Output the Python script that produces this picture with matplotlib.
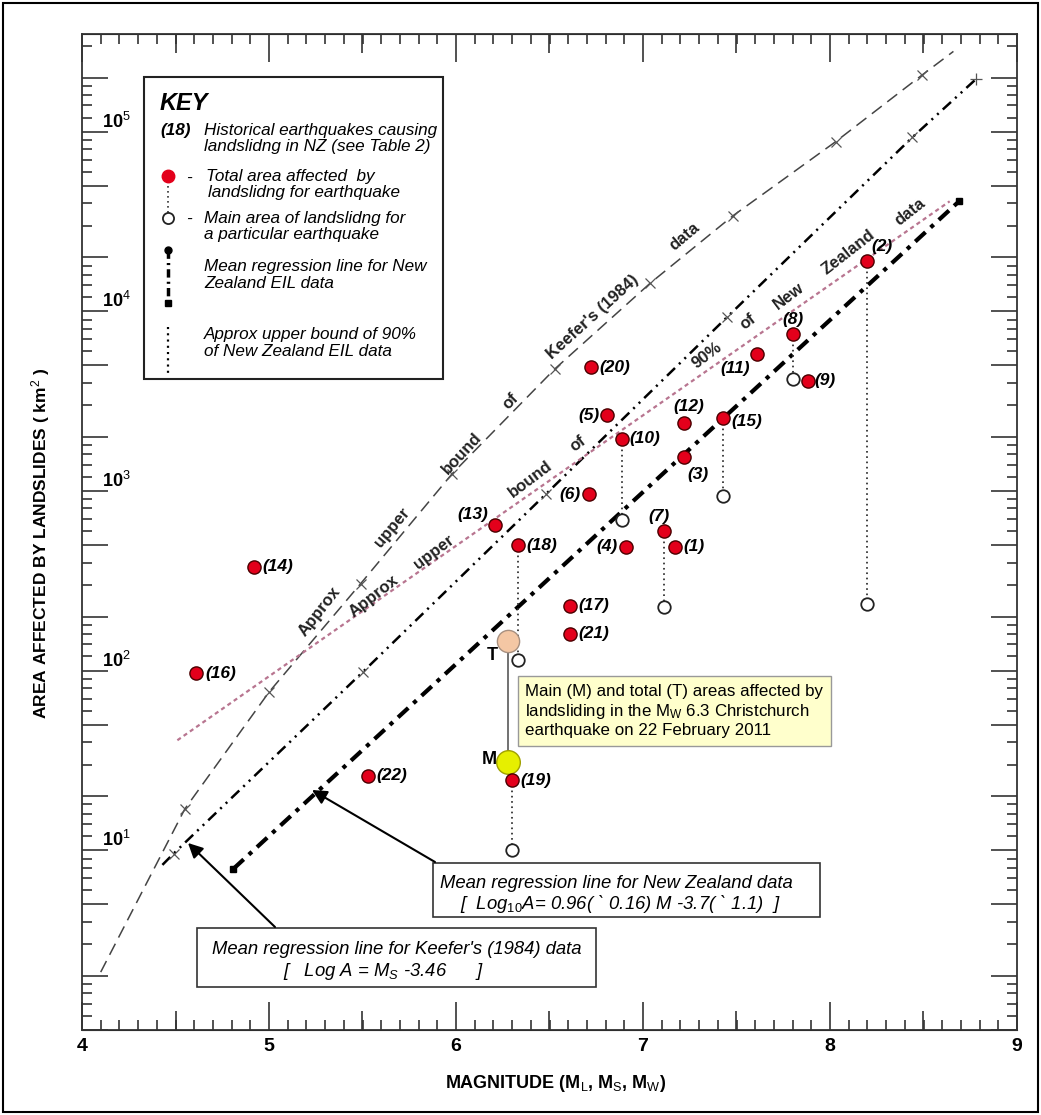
import numpy as np
import matplotlib.pyplot as plt
from matplotlib.ticker import FixedLocator, MultipleLocator, NullLocator
from matplotlib.patches import Rectangle

plt.rcParams['font.family'] = ['Liberation Sans', 'DejaVu Sans']
plt.rcParams['mathtext.fontset'] = 'custom'
plt.rcParams['mathtext.rm'] = 'Liberation Sans'
plt.rcParams['mathtext.it'] = 'Liberation Sans:italic'
plt.rcParams['mathtext.bf'] = 'Liberation Sans:bold'
plt.rcParams['lines.scale_dashes'] = False

# total area affected by landsliding for each NZ earthquake (red dots)
eq_id = [1, 2, 3, 4, 5, 6, 7, 8, 9, 10, 11, 12, 13, 14, 15, 16, 17, 18, 19, 20, 21, 22]
eq_mag = [7.17, 8.20, 7.22, 6.91, 6.81, 6.71, 7.11, 7.80, 7.88, 6.89, 7.61,
          7.22, 6.21, 4.92, 7.43, 4.61, 6.61, 6.33, 6.30, 6.72, 6.61, 5.53]
eq_area = [490, 19000, 1550, 490, 2640, 960, 600, 7450, 4100, 1950, 5760,
           2400, 650, 380, 2560, 97, 230, 500, 24.5, 4900, 161, 26]

# main area of landsliding (open circles), joined to the total by dots
main_id = [2, 8, 15, 10, 7, 18, 19]
main_area = [235, 4200, 935, 690, 225, 115, 10]

# 22 February 2011 Christchurch earthquake
chch_mag = 6.28
chch_total = 146
chch_main = 31

# lines
keefer_ub_mag = [4.10, 4.55, 5.00, 5.49, 5.98, 6.53, 7.04, 7.48, 8.03, 8.49, 8.66]
keefer_ub_area = [2.1, 17, 76, 305, 1250, 4800, 14400, 34000, 88000, 206000, 280000]
keefer_mean_mag = [4.43, 4.49, 5.50, 6.48, 7.45, 8.44, 8.78]
keefer_mean_area = [8.3, 9.6, 98, 960, 9300, 93000, 196000]
nz90_mag = [4.51, 8.64]
nz90_area = [41, 41000]
nzmean_mag = [4.81, 8.69]
nzmean_area = [7.9, 41000]

# label placement (points offset, ha, va)
lab_pos = {1: (6, 0, 'left', 'center'), 2: (3, 5, 'left', 'bottom'),
           3: (2, -7, 'left', 'top'), 4: (-6, 0, 'right', 'center'),
           5: (-6, 0, 'right', 'center'), 6: (-6, 0, 'right', 'center'),
           7: (-3, 5, 'center', 'bottom'), 8: (0, 5, 'center', 'bottom'),
           9: (5, 0, 'left', 'center'), 10: (5, 0, 'left', 'center'),
           11: (-5, -5, 'right', 'top'), 12: (3, 6, 'center', 'bottom'),
           13: (-5, 2, 'right', 'bottom'), 14: (6, 0, 'left', 'center'),
           15: (6, -3, 'left', 'center'), 16: (7, 0, 'left', 'center'),
           17: (6, 0, 'left', 'center'), 18: (6, 0, 'left', 'center'),
           19: (6, 0, 'left', 'center'), 20: (6, 0, 'left', 'center'),
           21: (6, 0, 'left', 'center'), 22: (6, 0, 'left', 'center')}

W, H = 1041, 1115
AX_L, AX_R, AX_T, AX_B = 82, 1017, 34, 1030

fig = plt.figure(figsize=(W / 100, H / 100), dpi=100)
ax = fig.add_axes([AX_L / W, (H - AX_B) / H, (AX_R - AX_L) / W, (AX_B - AX_T) / H])


def apx(px, py):
    # pixel position -> axes fraction
    return ((px - AX_L) / (AX_R - AX_L), (AX_B - py) / (AX_B - AX_T))


ax.set_yscale('log')
ax.set_xlim(4, 9)
ax.set_ylim(1, 3.5e5)

# ---- lines
ax.plot(keefer_ub_mag, keefer_ub_area, color='#444444', lw=1.1, dashes=(9, 5))
ax.plot(keefer_ub_mag[1:-1], keefer_ub_area[1:-1], 'x', color='#555555', ms=7, mew=0.9)
ax.plot(keefer_mean_mag, keefer_mean_area, color='black', lw=1.8,
        dashes=(8, 4, 1.5, 4, 1.5, 4))
ax.plot(keefer_mean_mag[1:-1], keefer_mean_area[1:-1], 'x', color='#555555', ms=7, mew=0.9)
ax.plot(keefer_mean_mag[-1:], keefer_mean_area[-1:], '+', color='#555555', ms=9, mew=0.9)
ax.plot(nz90_mag, nz90_area, color='#b87590', lw=1.6, dashes=(3, 2.5))
ax.plot(nzmean_mag, nzmean_area, color='black', lw=3, dashes=(10, 5, 3, 5))
ax.plot(nzmean_mag, nzmean_area, 's', color='black', ms=5)

# ---- dotted links between total and main area
for i, a in zip(main_id, main_area):
    k = eq_id.index(i)
    ax.plot([eq_mag[k], eq_mag[k]], [eq_area[k], a], color='#333333', lw=1.3,
            dashes=(1.2, 2.6))
    ax.plot(eq_mag[k], a, 'o', ms=9, mfc='white', mec='#222222', mew=1.3)

# Christchurch
ax.plot([chch_mag, chch_mag], [chch_total, chch_main], color='#666666', lw=1.3)
ax.plot(chch_mag, chch_total, 'o', ms=16, mfc='#f4c7a4', mec='#a89080', mew=1)
ax.plot(chch_mag, chch_main, 'o', ms=17, mfc='#e6ef00', mec='#a0a000', mew=1)
ax.text(6.195, 122, 'T', fontsize=13, fontweight='bold', ha='center', va='center')
ax.text(6.18, 32, 'M', fontsize=13, fontweight='bold', ha='center', va='center')

# red dots
ax.plot(eq_mag, eq_area, 'o', ms=9.5, mfc='#e3001b', mec='#4a0000', mew=1, ls='none')
for i, m, a in zip(eq_id, eq_mag, eq_area):
    dx, dy, ha, va = lab_pos[i]
    ax.annotate(f'({i})', (m, a), xytext=(dx, dy), textcoords='offset points',
                ha=ha, va=va, fontsize=12.5, fontweight='bold', fontstyle='italic')

# ---- words along the lines
keefer_words = [('Approx', 5.27, 214, 52), ('upper', 5.66, 630, 50),
                ('bound', 6.03, 1630, 47), ('of', 6.29, 3160, 46),
                ("Keefer's (1984)", 6.73, 9300, 42), ('data', 7.22, 26000, 40)]
for w, m, a, r in keefer_words:
    ax.text(m, a, w, rotation=r, fontsize=12, fontweight='bold', ha='center',
            va='center', color='#222222')
nz_words = [('Approx', 5.56, 260, 38), ('upper', 5.88, 460, 37), ('bound', 6.40, 1170, 37),
            ('of', 6.65, 1830, 37), ('90%', 7.34, 5720, 37), ('of', 7.56, 8800, 37),
            ('New', 7.78, 12100, 37), ('Zealand', 8.10, 21400, 38), ('data', 8.43, 36000, 38)]
for w, m, a, r in nz_words:
    ax.text(m, a, w, rotation=r, fontsize=12, fontweight='bold', ha='center',
            va='center', color='#222222')

# ---- yellow note
ax.text(6.37, 59.6, 'Main (M) and total (T) areas affected by\n'
        'landsliding in the M$_\\mathrm{W}$ 6.3 Christchurch\n'
        'earthquake on 22 February 2011', fontsize=12.2, ha='left', va='center',
        linespacing=1.2,
        bbox=dict(boxstyle='square,pad=0.45', fc='#ffffcc', ec='#999999', lw=1))

# ---- regression boxes with arrows
x0, y0 = apx(433, 917)
x1, y1 = apx(820, 863)
ax.add_patch(Rectangle((x0, y0), x1 - x0, y1 - y0, transform=ax.transAxes,
                       fill=False, ec='#333333', lw=1.2))
ax.text(*apx(440, 884), 'Mean regression line for New Zealand data', transform=ax.transAxes,
        fontsize=13.3, fontstyle='italic', va='center')
ax.text(*apx(460, 904), '[  Log$_{10}$A= 0.96( ` 0.16) M -3.7( ` 1.1)  ]',
        transform=ax.transAxes, fontsize=13.3, fontstyle='italic', va='center')
ax.annotate('', xy=apx(312, 790), xytext=apx(435, 862), xycoords='axes fraction',
            arrowprops=dict(arrowstyle='-|>', color='black', lw=1.5, mutation_scale=22,
                            shrinkA=0, shrinkB=0))

x0, y0 = apx(197, 987)
x1, y1 = apx(596, 928)
ax.add_patch(Rectangle((x0, y0), x1 - x0, y1 - y0, transform=ax.transAxes,
                       fill=False, ec='#333333', lw=1.2))
ax.text(*apx(212, 950), "Mean regression line for Keefer's (1984) data", transform=ax.transAxes,
        fontsize=13.3, fontstyle='italic', va='center')
ax.text(*apx(283, 971), '[   Log A = M$_S$ -3.46      ]', transform=ax.transAxes,
        fontsize=13.3, fontstyle='italic', va='center')
ax.annotate('', xy=apx(188, 843), xytext=apx(275, 927), xycoords='axes fraction',
            arrowprops=dict(arrowstyle='-|>', color='black', lw=1.5, mutation_scale=22,
                            shrinkA=0, shrinkB=0))

# ---- KEY box
x0, y0 = apx(144, 379)
x1, y1 = apx(443, 77)
ax.add_patch(Rectangle((x0, y0), x1 - x0, y1 - y0, transform=ax.transAxes,
                       fc='white', ec='#222222', lw=1.5, zorder=3))
kt = dict(transform=ax.transAxes, fontsize=12.3, fontstyle='italic', va='center', zorder=4)
ax.text(*apx(160, 103), 'KEY', transform=ax.transAxes, fontsize=17, fontweight='bold',
        fontstyle='italic', va='center', zorder=4)
ax.text(*apx(160, 131), '(18)', fontweight='bold', **kt)
ax.text(*apx(204, 131), 'Historical earthquakes causing', **kt)
ax.text(*apx(204, 147), 'landslidng in NZ (see Table 2)', **kt)
ax.plot(*zip(apx(168, 176), apx(168, 214)), transform=ax.transAxes, color='#333333',
        lw=1.2, dashes=(1.2, 2.4), zorder=4)
ax.plot(*apx(168, 176), 'o', transform=ax.transAxes, ms=9, mfc='#e3001b', mec='#e3001b', zorder=5)
ax.plot(*apx(168, 218), 'o', transform=ax.transAxes, ms=8, mfc='white', mec='#222222',
        mew=1.3, zorder=5)
ax.text(*apx(186, 178), '-', **kt)
ax.text(*apx(206, 176), 'Total area affected  by', **kt)
ax.text(*apx(208, 192), 'landslidng for earthquake', **kt)
ax.text(*apx(186, 219), '-', **kt)
ax.text(*apx(204, 219), 'Main area of landslidng for', **kt)
ax.text(*apx(204, 235), 'a particular earthquake', **kt)
ax.plot(*zip(apx(168, 250), apx(168, 303)), transform=ax.transAxes, color='black',
        lw=2.5, dashes=(6, 3, 1.5, 3), zorder=4)
ax.plot(*apx(168, 250), 'o', transform=ax.transAxes, ms=5, color='black', zorder=5)
ax.plot(*apx(168, 303), 's', transform=ax.transAxes, ms=5, color='black', zorder=5)
ax.text(*apx(204, 266), 'Mean regression line for New', **kt)
ax.text(*apx(204, 283), 'Zealand EIL data', **kt)
ax.plot(*zip(apx(168, 327), apx(168, 373)), transform=ax.transAxes, color='black',
        lw=1.6, dashes=(1.5, 3), zorder=4)
ax.text(*apx(204, 334), 'Approx upper bound of 90%', **kt)
ax.text(*apx(204, 352), 'of New Zealand EIL data', **kt)

# ---- ticks
ax.xaxis.set_major_locator(MultipleLocator(1))
ax.xaxis.set_minor_locator(MultipleLocator(0.1))
y_major = [m * 10 ** k for k in range(0, 6) for m in (1, 2, 5)]
y_minor = [m * 10 ** k for k in range(0, 6) for m in (1.2, 1.4, 1.6, 1.8, 3, 4, 6, 7, 8, 9)]
ax.yaxis.set_major_locator(FixedLocator(y_major))
ax.yaxis.set_minor_locator(FixedLocator(y_minor))
ax.tick_params(which='both', direction='in', top=True, right=True, colors='#333333',
               width=1.2, labelleft=False)
ax.tick_params(axis='x', which='major', length=20, labelsize=14, pad=6, labelcolor='black')
ax.tick_params(axis='x', which='minor', length=7)
ax.tick_params(axis='y', which='major', length=19)
ax.tick_params(axis='y', which='minor', length=7)
for t in ax.get_xticklabels():
    t.set_fontweight('bold')
for side in ('bottom', 'top'):
    sec = ax.secondary_xaxis(side)
    sec.set_xticks([4.5, 5.5, 6.5, 7.5, 8.5])
    sec.xaxis.set_minor_locator(NullLocator())
    sec.tick_params(direction='in', length=14, width=1.2, colors='#333333',
                    labelbottom=False, labeltop=False)
for s in ax.spines.values():
    s.set_color('#333333')
    s.set_linewidth(1.3)

for k in range(1, 6):
    ax.text(0.021, 10 ** k, '10$^{%d}$' % k, transform=ax.get_yaxis_transform(),
            fontsize=13, fontweight='bold', ha='left', va='bottom')

fig.text(41 / W, 1 - 543 / H, 'AREA AFFECTED BY LANDSLIDES ( km$^2$ )', rotation=90,
         fontsize=12.5, fontweight='bold', ha='center', va='center')
fig.text(556 / W, 1 - 1083 / H, 'MAGNITUDE (M$_\\mathrm{L}$, M$_\\mathrm{S}$, M$_\\mathrm{W}$)',
         fontsize=13, fontweight='bold', ha='center', va='center')

fig.add_artist(Rectangle((0.003, 0.003), 0.994, 0.994, transform=fig.transFigure,
                         fill=False, ec='black', lw=1.5))

fig.savefig('out.png', dpi=100)
